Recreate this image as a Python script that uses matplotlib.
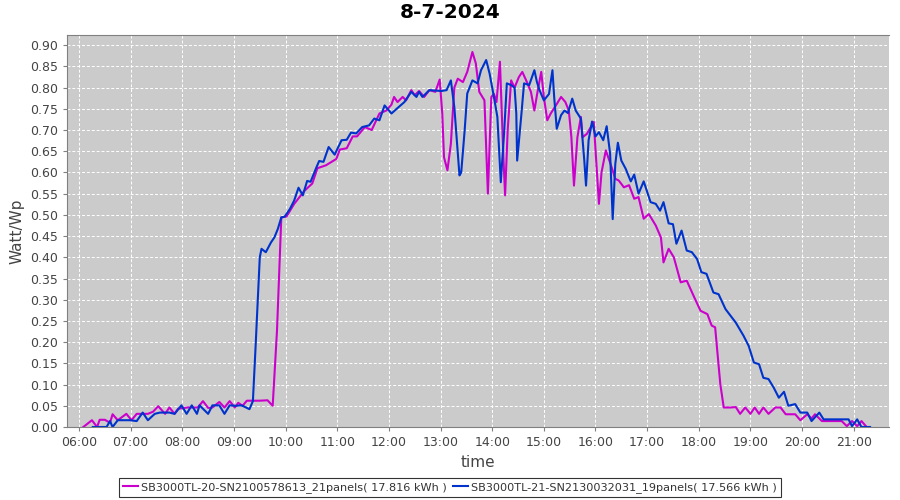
import datetime as dt
import matplotlib
matplotlib.use("Agg")
import matplotlib.pyplot as plt
import matplotlib.dates as mdates
import numpy as np

# --- data ---
name_a = "SB3000TL-20-SN2100578613_21panels( 17.816 kWh )"
name_b = "SB3000TL-21-SN2130032031_19panels( 17.566 kWh )"

times_a = ["06:05", "06:15", "06:21", "06:24", "06:30", "06:36", "06:39", "06:45", "06:55", "07:01",
           "07:07", "07:20", "07:26", "07:32", "07:40", "07:45", "07:51", "07:55", "08:06", "08:18",
           "08:24", "08:30", "08:35", "08:43", "08:49", "08:55", "09:01", "09:05", "09:10", "09:15",
           "09:30", "09:39", "09:45", "09:50", "09:55", "10:01", "10:10", "10:22", "10:31", "10:37",
           "10:47", "10:59", "11:03", "11:11", "11:18", "11:23", "11:32", "11:40", "11:49", "11:57",
           "12:03", "12:06", "12:10", "12:16", "12:20", "12:26", "12:30", "12:35", "12:41", "12:47",
           "12:54", "12:59", "13:02", "13:04", "13:08", "13:12", "13:16", "13:20", "13:26", "13:31",
           "13:37", "13:41", "13:45", "13:51", "13:55", "13:59", "14:02", "14:05", "14:09", "14:13",
           "14:15", "14:18", "14:22", "14:26", "14:31", "14:35", "14:41", "14:45", "14:49", "14:53",
           "14:57", "15:00", "15:04", "15:08", "15:14", "15:20", "15:25", "15:29", "15:32", "15:35",
           "15:39", "15:43", "15:45", "15:50", "15:58", "16:04", "16:07", "16:12", "16:18", "16:23",
           "16:27", "16:33", "16:39", "16:45", "16:50", "16:56", "17:02", "17:10", "17:16", "17:19",
           "17:25", "17:31", "17:39", "17:46", "17:54", "18:02", "18:10", "18:15", "18:19", "18:25",
           "18:29", "18:37", "18:43", "18:48", "18:54", "19:00", "19:05", "19:10", "19:15", "19:21",
           "19:29", "19:35", "19:41", "19:52", "19:58", "20:06", "20:11", "20:15", "20:23", "20:35",
           "20:46", "20:52", "20:58", "21:04", "21:09", "21:15"]
watt_a = [0.0, 0.016, 0.0, 0.017, 0.017, 0.010, 0.030, 0.016, 0.031, 0.016,
          0.031, 0.031, 0.036, 0.049, 0.031, 0.046, 0.031, 0.043, 0.046, 0.046,
          0.061, 0.045, 0.046, 0.059, 0.046, 0.061, 0.046, 0.057, 0.050, 0.062,
          0.062, 0.063, 0.050, 0.227, 0.494, 0.496, 0.526, 0.557, 0.574, 0.610,
          0.617, 0.632, 0.654, 0.657, 0.685, 0.685, 0.707, 0.700, 0.739, 0.746,
          0.760, 0.778, 0.766, 0.778, 0.770, 0.794, 0.782, 0.792, 0.778, 0.794,
          0.790, 0.819, 0.739, 0.636, 0.605, 0.668, 0.800, 0.821, 0.813, 0.837,
          0.884, 0.857, 0.790, 0.770, 0.550, 0.778, 0.785, 0.766, 0.861, 0.636,
          0.546, 0.700, 0.817, 0.800, 0.825, 0.837, 0.810, 0.790, 0.746, 0.794,
          0.837, 0.778, 0.723, 0.739, 0.758, 0.778, 0.766, 0.746, 0.683, 0.569,
          0.683, 0.731, 0.683, 0.691, 0.719, 0.526, 0.600, 0.652, 0.617, 0.585,
          0.581, 0.565, 0.570, 0.538, 0.542, 0.491, 0.502, 0.475, 0.447, 0.388,
          0.420, 0.400, 0.341, 0.345, 0.309, 0.274, 0.266, 0.239, 0.235, 0.101,
          0.046, 0.046, 0.047, 0.031, 0.046, 0.031, 0.046, 0.031, 0.046, 0.031,
          0.046, 0.046, 0.030, 0.030, 0.016, 0.030, 0.020, 0.030, 0.014, 0.014,
          0.014, 0.002, 0.014, 0.002, 0.014, 0.0]

times_b = ["06:16", "06:32", "06:36", "06:39", "06:45", "06:59", "07:07", "07:14", "07:20", "07:28",
           "07:34", "07:45", "07:51", "07:59", "08:05", "08:11", "08:17", "08:20", "08:30", "08:35",
           "08:43", "08:49", "08:55", "09:02", "09:09", "09:18", "09:22", "09:25", "09:30", "09:32",
           "09:37", "09:43", "09:47", "09:51", "09:55", "09:59", "10:05", "10:10", "10:15", "10:20",
           "10:25", "10:29", "10:36", "10:39", "10:44", "10:50", "10:57", "11:05", "11:11", "11:16",
           "11:22", "11:29", "11:37", "11:43", "11:49", "11:55", "12:03", "12:09", "12:18", "12:26",
           "12:32", "12:35", "12:39", "12:47", "13:01", "13:07", "13:12", "13:16", "13:22", "13:24",
           "13:28", "13:31", "13:37", "13:43", "13:47", "13:53", "13:57", "14:02", "14:06", "14:10",
           "14:14", "14:17", "14:22", "14:26", "14:28", "14:29", "14:34", "14:37", "14:43", "14:49",
           "14:52", "14:55", "15:00", "15:06", "15:10", "15:12", "15:15", "15:20", "15:24", "15:28",
           "15:33", "15:37", "15:43", "15:47", "15:49", "15:52", "15:56", "16:00", "16:04", "16:09",
           "16:13", "16:17", "16:20", "16:23", "16:26", "16:30", "16:35", "16:41", "16:45", "16:50",
           "16:56", "17:04", "17:10", "17:15", "17:19", "17:25", "17:30", "17:34", "17:40", "17:46",
           "17:52", "17:58", "18:03", "18:09", "18:17", "18:23", "18:31", "18:43", "18:52", "18:58",
           "19:04", "19:10", "19:15", "19:21", "19:27", "19:33", "19:39", "19:44", "19:52", "19:58",
           "20:06", "20:11", "20:20", "20:25", "20:54", "20:58", "21:04", "21:09", "21:19"]
watt_b = [0.0, 0.0, 0.014, 0.0, 0.016, 0.016, 0.014, 0.034, 0.016, 0.031,
          0.034, 0.034, 0.031, 0.051, 0.031, 0.051, 0.031, 0.051, 0.031, 0.051,
          0.051, 0.031, 0.051, 0.050, 0.051, 0.042, 0.061, 0.184, 0.400, 0.420,
          0.412, 0.435, 0.447, 0.467, 0.494, 0.496, 0.514, 0.534, 0.564, 0.546,
          0.580, 0.578, 0.613, 0.627, 0.625, 0.660, 0.642, 0.676, 0.677, 0.694,
          0.692, 0.707, 0.711, 0.727, 0.723, 0.758, 0.739, 0.750, 0.766, 0.790,
          0.778, 0.790, 0.778, 0.794, 0.792, 0.794, 0.817, 0.754, 0.593, 0.600,
          0.699, 0.786, 0.817, 0.810, 0.841, 0.865, 0.833, 0.778, 0.731, 0.577,
          0.699, 0.810, 0.806, 0.800, 0.739, 0.628, 0.739, 0.810, 0.806, 0.841,
          0.813, 0.794, 0.770, 0.785, 0.841, 0.778, 0.703, 0.735, 0.746, 0.740,
          0.774, 0.746, 0.727, 0.628, 0.569, 0.676, 0.720, 0.685, 0.695, 0.676,
          0.709, 0.644, 0.490, 0.620, 0.670, 0.628, 0.609, 0.579, 0.595, 0.550,
          0.579, 0.530, 0.526, 0.510, 0.530, 0.480, 0.478, 0.432, 0.463, 0.416,
          0.412, 0.396, 0.365, 0.361, 0.317, 0.313, 0.278, 0.246, 0.215, 0.191,
          0.152, 0.148, 0.116, 0.113, 0.093, 0.069, 0.083, 0.050, 0.054, 0.034,
          0.034, 0.014, 0.034, 0.018, 0.018, 0.002, 0.018, 0.0, 0.0]

day = dt.date(2024, 7, 8)


def to_dt(labels):
    return [dt.datetime.combine(day, dt.datetime.strptime(s, "%H:%M").time()) for s in labels]


# --- plot ---
fig = plt.figure(figsize=(9, 5), dpi=100)
ax = fig.add_axes([0.0744, 0.146, 0.9134, 0.784])
ax.set_facecolor("#cbcbcb")

ax.plot(to_dt(times_a), watt_a, color="#cc00cc", lw=1.5, label=name_a)
ax.plot(to_dt(times_b), watt_b, color="#0033cc", lw=1.5, label=name_b)

ax.set_xlim(dt.datetime.combine(day, dt.time(5, 46)), dt.datetime.combine(day, dt.time(21, 41)))
ax.set_ylim(0, 0.924)
ax.set_yticks(np.arange(0, 0.901, 0.05))
ax.yaxis.set_major_formatter(matplotlib.ticker.FormatStrFormatter("%.2f"))
ax.xaxis.set_major_locator(mdates.HourLocator())
ax.xaxis.set_major_formatter(mdates.DateFormatter("%H:%M"))

ax.grid(True, color="white", linestyle=(0, (3, 2)), linewidth=0.7)
for side in ["left", "bottom", "top", "right"]:
    ax.spines[side].set_color("#808080")
ax.spines["right"].set_visible(False)
ax.tick_params(colors="#808080", labelcolor="#444444", labelsize=9, length=3)

ax.set_xlabel("time", fontsize=11, color="#444444", labelpad=4)
ax.set_ylabel("Watt/Wp", fontsize=11, color="#444444", labelpad=4)
fig.suptitle("8-7-2024", fontsize=14.5, fontweight="bold", y=0.995)

leg = fig.legend(loc="lower center", bbox_to_anchor=(0.5, 0.002), ncol=2, fontsize=8.1,
                 frameon=True, fancybox=False, handlelength=1.3, handletextpad=0.3,
                 columnspacing=0.6, borderpad=0.35, borderaxespad=0.2)
leg.get_frame().set_edgecolor("black")
leg.get_frame().set_linewidth(0.8)
for t in leg.get_texts():
    t.set_color("#333333")

fig.savefig("out.png", dpi=100)
